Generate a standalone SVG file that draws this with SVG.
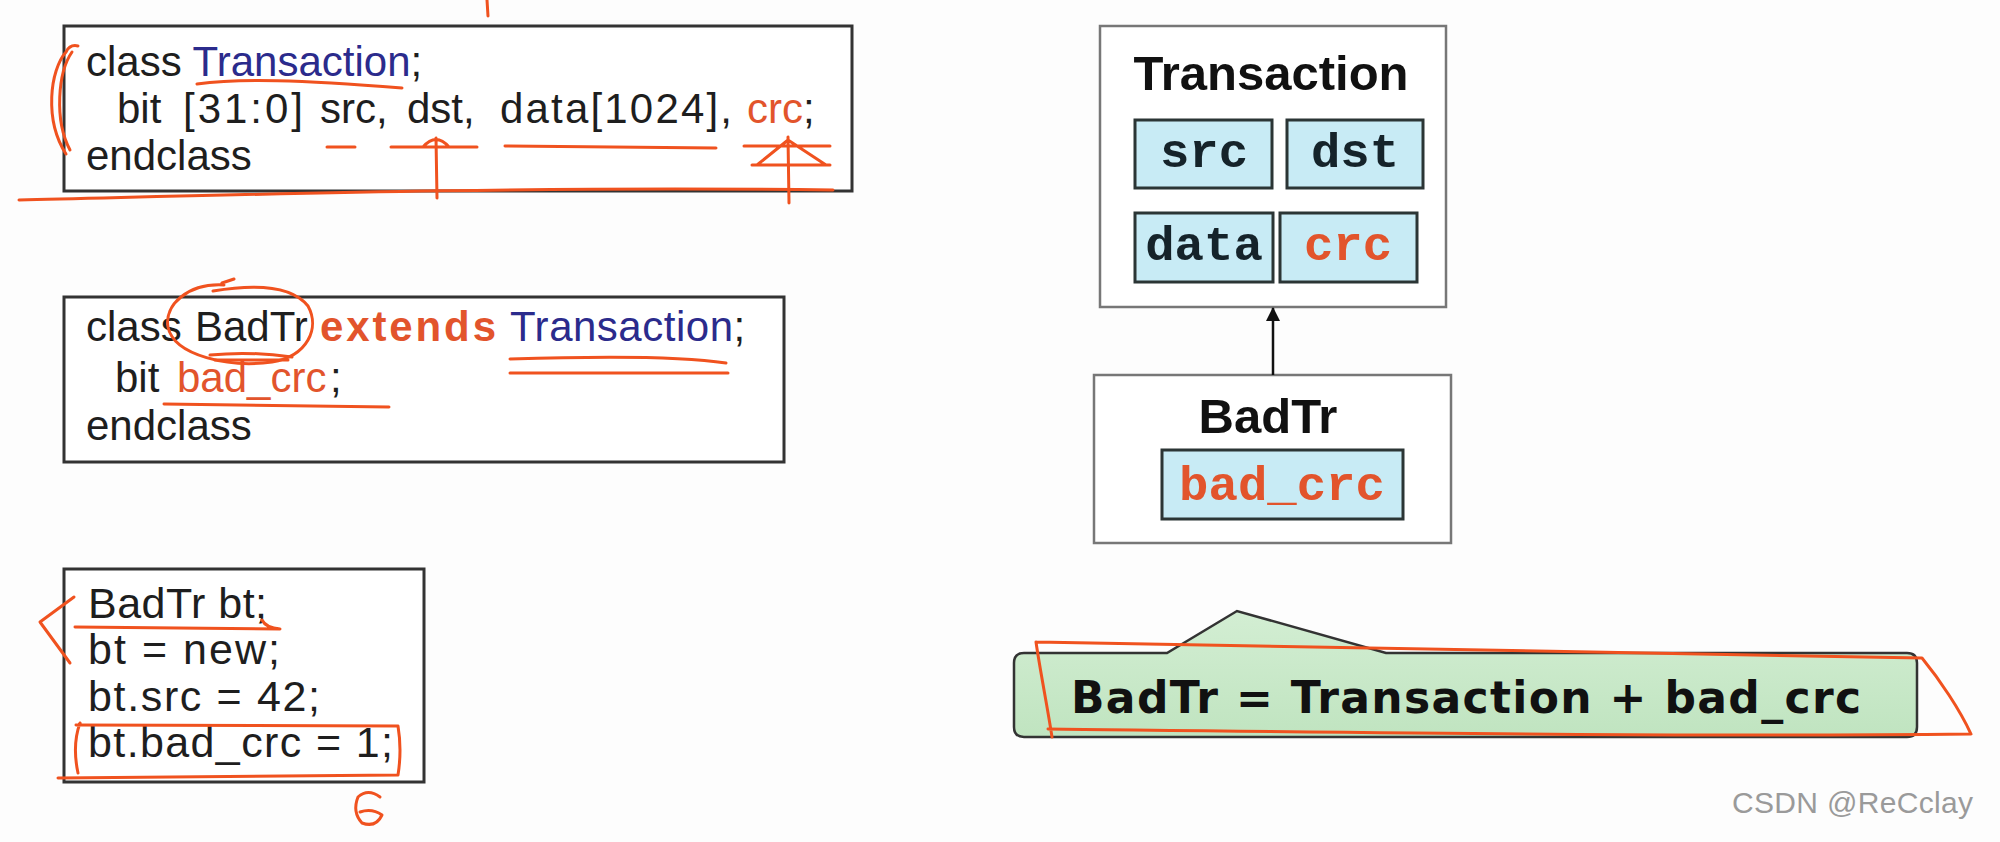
<svg xmlns="http://www.w3.org/2000/svg" width="2000" height="842" viewBox="0 0 2000 842">
<style>
.bg{fill:#fdfdfd}
.code{fill:#fff;stroke:#333;stroke-width:3}
.cls{fill:#fff;stroke:#777;stroke-width:2.5}
.fld{fill:#c8ebf5;stroke:#2b3535;stroke-width:3}
.t{font-family:"Liberation Sans",Arial,sans-serif;font-size:42px;fill:#1e1e1e}
.title{font-family:"Liberation Sans",Arial,sans-serif;font-size:49px;font-weight:bold;fill:#111;text-anchor:middle}
.mono{font-family:"Liberation Mono","Courier New",monospace;font-size:49px;font-weight:bold;fill:#15232a;text-anchor:middle}
.blue{fill:#2b2b8c}
.org,.mono.org{fill:#e2542c}
.bold{font-weight:bold}
.ink{fill:none;stroke:#f0521f;stroke-width:3;stroke-linecap:round;stroke-linejoin:round}
</style>
<defs>
<marker id="ah" markerWidth="14" markerHeight="14" refX="13" refY="7" orient="auto" markerUnits="userSpaceOnUse">
<path d="M0,0 L14,7 L0,14 Z" fill="#111"/>
</marker>
<linearGradient id="gg" x1="0" y1="0" x2="0" y2="1">
<stop offset="0" stop-color="#d3eed3"/>
<stop offset="1" stop-color="#c0e4c0"/>
</linearGradient>
</defs>
<rect class="bg" x="0" y="0" width="2000" height="842"/>

<g id="code-transaction">
<rect class="code" x="64" y="26" width="788" height="165"/>
<text class="t" x="86" y="76">class <tspan class="blue">Transaction</tspan>;</text>
<text class="t" y="123"><tspan x="117">bit</tspan><tspan x="183" textLength="120">[31:0]</tspan><tspan x="320">src,</tspan><tspan x="407">dst,</tspan><tspan x="500" textLength="232">data[1024],</tspan><tspan x="747" class="org">crc</tspan>;</text>
<text class="t" x="86" y="170">endclass</text>
</g>

<g id="code-badtr">
<rect class="code" x="64" y="297" width="720" height="165"/>
<text class="t" y="341"><tspan x="86">class</tspan><tspan x="195">BadTr</tspan><tspan x="320" class="org bold" textLength="176">extends</tspan><tspan x="510" class="blue" textLength="223">Transaction</tspan>;</text>
<text class="t" y="392"><tspan x="115">bit</tspan><tspan x="177" class="org">bad_crc</tspan><tspan x="330">;</tspan></text>
<text class="t" x="86" y="440">endclass</text>
</g>

<g id="code-usage">
<rect class="code" x="64" y="569" width="360" height="213"/>
<text class="t" x="88" y="618" style="font-size:43px" textLength="179">BadTr bt;</text>
<text class="t" x="88" y="664" style="font-size:43px" textLength="192">bt = new;</text>
<text class="t" x="88" y="711" style="font-size:43px" textLength="232">bt.src = 42;</text>
<text class="t" x="88" y="757" style="font-size:43px" textLength="305">bt.bad_crc = 1;</text>
</g>

<g id="node-transaction">
<rect class="cls" x="1100" y="26" width="346" height="281"/>
<text class="title" x="1271" y="90">Transaction</text>
<rect class="fld" x="1135" y="120" width="137" height="68"/>
<text class="mono" x="1204" y="167">src</text>
<rect class="fld" x="1287" y="120" width="136" height="68"/>
<text class="mono" x="1355" y="167">dst</text>
<rect class="fld" x="1135" y="213" width="138" height="69"/>
<text class="mono" x="1204" y="260">data</text>
<rect class="fld" x="1280" y="213" width="137" height="69"/>
<text class="mono org" x="1348" y="260">crc</text>
</g>

<g id="node-badtr">
<rect class="cls" x="1094" y="375" width="357" height="168"/>
<text class="title" x="1268" y="433">BadTr</text>
<rect class="fld" x="1162" y="450" width="241" height="69"/>
<text class="mono org" x="1282" y="500">bad_crc</text>
</g>

<g id="connectors">
<line x1="1273" y1="375" x2="1273" y2="308" stroke="#111" stroke-width="2.5" marker-end="url(#ah)"/>
</g>

<g id="callout">
<path d="M1024 653 H1167 L1237 611 L1386 653 H1907 Q1917 653 1917 663 V727 Q1917 737 1907 737 H1024 Q1014 737 1014 727 V663 Q1014 653 1024 653 Z" fill="url(#gg)" stroke="#333" stroke-width="2.5"/>
<text x="1071" y="713" font-family="'DejaVu Sans',Verdana,sans-serif" font-size="44" font-weight="bold" fill="#111" textLength="790">BadTr = Transaction + bad_crc</text>
</g>

<g id="annotations">
<path class="ink" d="M487 0 L488 16"/>
<path class="ink" d="M78 46 Q70 44 66 52 C50 70 44 120 66 154"/>
<path class="ink" d="M72 52 C58 72 54 120 70 150"/>
<path class="ink" d="M197 84 C240 78 300 80 402 88"/>
<path class="ink" d="M327 147 L355 147 M391 147 L477 147 M423 147 Q436 132 449 147 M436 138 L437 198"/>
<path class="ink" d="M505 146 L716 148" stroke-width="4"/>
<path class="ink" d="M744 146 L830 146 M752 165 L830 165 M757 165 L788 140 L826 165 M788 137 L789 203"/>
<path class="ink" d="M19 200 C200 196 500 186 833 190"/>
<path class="ink" d="M224 285 C188 283 164 305 168 327 C174 356 230 368 272 362 C308 356 320 328 308 306 C292 286 255 284 213 291 M222 283 L234 279"/>
<path class="ink" d="M210 355 Q250 351 292 357 M215 360 L288 360"/>
<path class="ink" d="M510 359 C600 356 680 356 726 363 M510 373 L728 373"/>
<path class="ink" d="M164 404 L389 407"/>
<path class="ink" d="M75 627 L280 629 M262 620 Q266 628 280 629"/>
<path class="ink" d="M74 597 L40 622 L70 663"/>
<path class="ink" d="M80 723 Q72 745 78 773 M76 725 L398 726 Q402 750 398 775 L58 778"/>
<path class="ink" d="M380 797 Q368 788 358 797 Q352 812 362 823 Q376 828 382 815 Q372 808 360 812"/>
<path class="ink" d="M1036 642 C1300 644 1600 650 1922 658 C1940 680 1960 710 1971 734 C1700 737 1400 733 1048 729 M1036 642 C1040 670 1048 710 1052 737"/>
</g>

<text x="1732" y="813" font-family="'Liberation Sans',Arial,sans-serif" font-size="30" fill="#9a9a9a" textLength="241">CSDN @ReCclay</text>
</svg>
